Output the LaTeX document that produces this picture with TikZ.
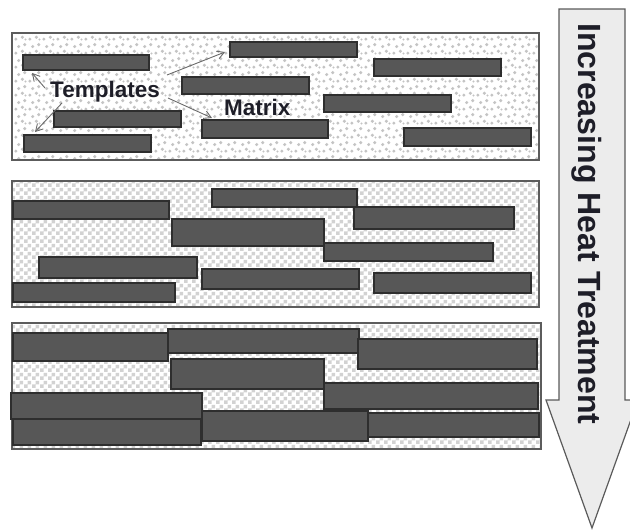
\documentclass[tikz,border=0pt]{standalone}
\usepackage{fontspec}
\setmainfont{Liberation Sans}
\usetikzlibrary{patterns,arrows.meta,calc}

\pgfdeclarepatternformonly{checker}{\pgfqpoint{0pt}{0pt}}{\pgfqpoint{8pt}{8pt}}{\pgfqpoint{8pt}{8pt}}{%
  \pgfpathrectangle{\pgfqpoint{0pt}{0pt}}{\pgfqpoint{4pt}{4pt}}%
  \pgfpathrectangle{\pgfqpoint{4pt}{4pt}}{\pgfqpoint{4pt}{4pt}}%
  \pgfusepath{fill}}

\pgfdeclarepatternformonly{stipple}{\pgfqpoint{0pt}{0pt}}{\pgfqpoint{14pt}{14pt}}{\pgfqpoint{14pt}{14pt}}{%
  \pgfpathcircle{\pgfqpoint{2pt}{2pt}}{1.8pt}%
  \pgfpathcircle{\pgfqpoint{9pt}{4pt}}{1.8pt}%
  \pgfpathcircle{\pgfqpoint{5pt}{9pt}}{1.8pt}%
  \pgfpathcircle{\pgfqpoint{11.5pt}{11pt}}{1.8pt}%
  \pgfpathcircle{\pgfqpoint{12.3pt}{1.6pt}}{1.3pt}%
  \pgfusepath{fill}}

\definecolor{barfill}{HTML}{575757}
\definecolor{barline}{HTML}{2E2E2E}
\definecolor{panelline}{HTML}{5C5C5C}
\definecolor{dotc}{HTML}{C4C4C4}
\definecolor{checkc}{HTML}{D2D2D2}
\definecolor{arrowfill}{HTML}{ECECEC}
\definecolor{arrowline}{HTML}{5A5A5A}
\definecolor{txt}{HTML}{1E1E28}
\definecolor{ptrc}{HTML}{6A6A6A}

\newcommand\barnode[5]{\node[barbox, minimum width={#4-#2}, minimum height={#5-#3}] (#1) at ({(#2+#4)/2},{(#3+#5)/2}) {};}
\newcommand\panelnode[6]{\node[panelbox, #6, minimum width={#4-#2}, minimum height={#5-#3}] (#1) at ({(#2+#4)/2},{(#3+#5)/2}) {};}

\begin{document}
\begin{tikzpicture}[x=1pt,y=-1pt,
  barbox/.style={draw=barline, fill=barfill, line width=1.3pt, inner sep=0pt, outer sep=0pt, rectangle},
  panelbox/.style={draw=panelline, line width=1.1pt, inner sep=0pt, outer sep=0pt, rectangle},
  dotted panel/.style={pattern=stipple, pattern color=dotc},
  checker panel/.style={pattern=checker, pattern color=checkc},
  lbl/.style={inner sep=0pt, text=txt, font=\fontsize{22.5}{27}\selectfont\bfseries},
  ptr/.style={draw=ptrc, line width=0.9pt, -{Straight Barb[length=7pt,width=8pt]}},
  bigarrow/.style={fill=arrowfill, draw=arrowline, line width=1.2pt, line join=miter}
]
\useasboundingbox (0,0) rectangle (630,531);

% ---------- panel 1 ----------
\panelnode{p1}{12}{33}{539}{160}{dotted panel}
\barnode{a1}{23}{55}{149}{70}
\barnode{a2}{230}{42}{357}{57}
\barnode{a3}{182}{77}{309}{94}
\barnode{a4}{54}{111}{181}{127}
\barnode{a5}{24}{135}{151}{152}
\barnode{a6}{202}{120}{328}{138}
\barnode{a7}{374}{59}{501}{76}
\barnode{a8}{324}{95}{451}{112}
\barnode{a9}{404}{128}{531}{146}

\node[lbl, anchor=base west] (tmpl) at (50,97) {Templates};
\node[lbl, anchor=base west] (matrix) at (224,115) {Matrix};

\coordinate (t1) at (45,88);
\coordinate (t2) at (62,103);
\coordinate (t3) at (167,75);
\coordinate (t4) at (168,98);
\coordinate (h1) at (32,73);
\coordinate (h2) at (35,132);
\coordinate (h3) at (225,52);
\coordinate (h4) at (212,118);
\draw[ptr] (t1) -- (h1);
\draw[ptr] (t2) -- (h2);
\draw[ptr] (t3) -- (h3);
\draw[ptr] (t4) -- (h4);

% ---------- panel 2 ----------
\panelnode{p2}{12}{181}{539}{307}{checker panel}
\barnode{b1}{13}{201}{169}{219}
\barnode{b2}{212}{189}{357}{207}
\barnode{b3}{172}{219}{324}{246}
\barnode{b4}{354}{207}{514}{229}
\barnode{b5}{324}{243}{493}{261}
\barnode{b6}{39}{257}{197}{278}
\barnode{b7}{202}{269}{359}{289}
\barnode{b8}{13}{283}{175}{302}
\barnode{b9}{374}{273}{531}{293}

% ---------- panel 3 ----------
\panelnode{p3}{12}{323}{541}{449}{checker panel}
\barnode{c1}{13}{333}{168}{361}
\barnode{c2}{168}{329}{359}{353}
\barnode{c3}{358}{339}{537}{369}
\barnode{c4}{171}{359}{324}{389}
\barnode{c5}{324}{383}{538}{409}
\barnode{c6}{11}{393}{202}{419}
\barnode{c7}{13}{419}{201}{445}
\barnode{c9}{368}{413}{539}{437}
\barnode{c8}{202}{411}{368}{441}

% ---------- big arrow ----------
\draw[bigarrow] (559,9) -- (625,9) -- (625,400) -- (638,400) -- (592,528)
  -- (546,400) -- (559,400) -- cycle;
\node[anchor=base west, rotate=-90, inner sep=0pt, text=txt,
  font=\fontsize{32.1}{36}\selectfont\bfseries] (heat) at (578,23) {Increasing Heat Treatment};
\end{tikzpicture}
\end{document}
